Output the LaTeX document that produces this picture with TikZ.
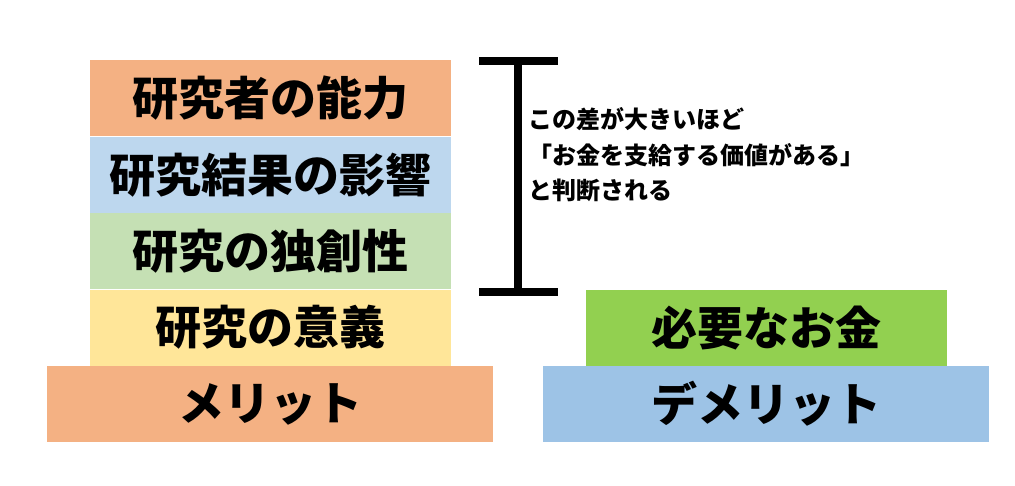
\documentclass[tikz,border=0pt]{standalone}
\usepackage{fontspec}
\setmainfont{Noto Sans CJK JP}
\usepackage{tikz}
\usetikzlibrary{positioning}
\definecolor{meritorange}{HTML}{F4B183}
\definecolor{paleblue}{HTML}{BDD7EE}
\definecolor{palegreen}{HTML}{C5E0B4}
\definecolor{paleyellow}{HTML}{FFE699}
\definecolor{limegreen}{HTML}{92D050}
\definecolor{demeritblue}{HTML}{9DC3E6}
\tikzset{
  layer/.style={inner sep=0pt,minimum width=361pt,minimum height=76pt,
    font=\fontsize{46}{46}\selectfont\bfseries},
  base/.style={layer,minimum width=446pt}
}

\begin{document}
\begin{tikzpicture}[x=1pt,y=-1pt]
        \useasboundingbox[fill=white] (0,0) rectangle (1015,485);

        % merit side
        \node[base,fill=meritorange] (merit) at (270,404) {メリット};
        \node[layer,fill=paleyellow,above=0pt of merit] (meaning) {研究の意義};
        \node[layer,fill=palegreen,above=0pt of meaning] (original) {研究の独創性};
        \node[layer,fill=paleblue,above=0pt of original] (impact) {研究結果の影響};
        \node[layer,fill=meritorange,above=0pt of impact] (ability) {研究者の能力};

        % demerit side
        \node[base,fill=demeritblue] (demerit) at (766,404) {デメリット};
        \node[layer,fill=limegreen,above=0pt of demerit] (money) {必要なお金};

        % difference bracket
        \coordinate (brtop) at (518,61);
        \coordinate (brbot) at (518,292);
        \draw[line width=8pt] (brtop) -- (brbot);
        \draw[line width=8pt] ([xshift=-39pt]brtop) -- ([xshift=40pt]brtop);
        \draw[line width=8pt] ([xshift=-39pt]brbot) -- ([xshift=40pt]brbot);
        \node[anchor=west,align=left,inner sep=0pt,
          font=\fontsize{24}{35.5}\selectfont\bfseries] (note) at (528,155)
          {この差が大きいほど\\「お金を支給する価値がある」\\と判断される};
      \end{tikzpicture}
\end{document}
